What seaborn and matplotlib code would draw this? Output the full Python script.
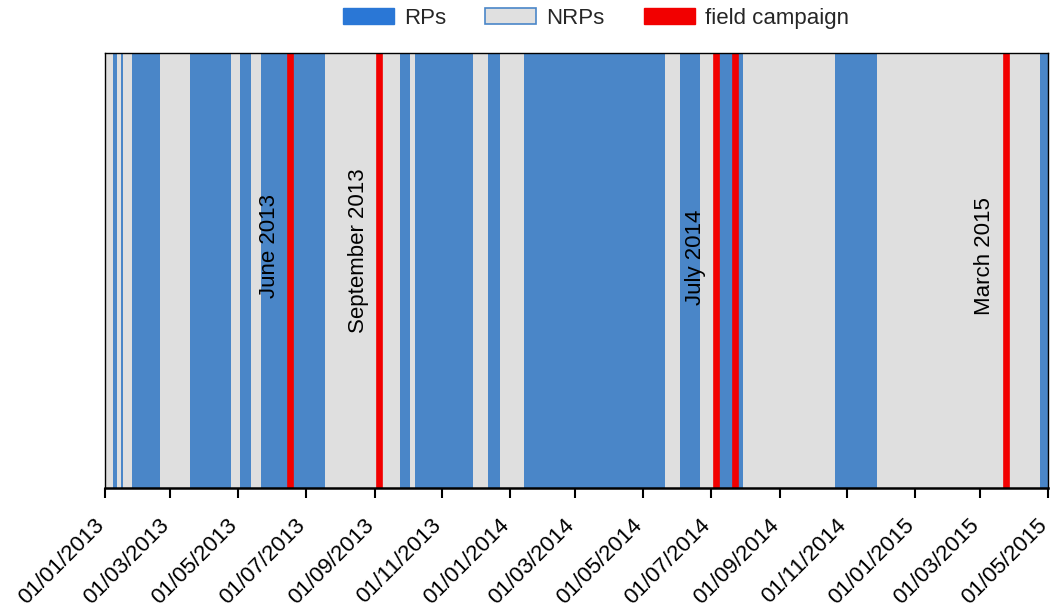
import matplotlib
matplotlib.use("Agg")
import matplotlib.pyplot as plt
import matplotlib.dates as mdates
import matplotlib.transforms as mtransforms
from matplotlib.patches import Patch
import pandas as pd
import seaborn as sns

# Rainfall-producing periods (start, end)
rp_start = ["2013-01-08", "2013-01-15", "2013-01-25", "2013-03-19", "2013-05-03",
            "2013-05-22", "2013-09-24", "2013-10-07", "2013-12-12", "2014-01-14",
            "2014-06-03", "2014-07-05", "2014-10-21", "2015-04-24"]
rp_end = ["2013-01-12", "2013-01-17", "2013-02-20", "2013-04-25", "2013-05-13",
          "2013-07-18", "2013-10-03", "2013-11-29", "2013-12-23", "2014-05-21",
          "2014-06-21", "2014-07-30", "2014-11-28", "2015-05-01"]

# Field campaign dates and their labels
campaign_dates = ["2013-06-17", "2013-09-05", "2014-07-06", "2014-07-23", "2015-03-24"]
campaign_labels = ["June 2013", "September 2013", "July 2014", "", "March 2015"]
label_y = [0.556, 0.545, 0.531, 0.53, 0.533]

x_min, x_max = "2013-01-01", "2015-05-01"

sns.set_theme(style="white")
plt.rcParams["font.family"] = ["Liberation Sans", "DejaVu Sans"]

RP_COLOR = "#4A86C8"
NRP_COLOR = "#DFDFDF"
CAMPAIGN_COLOR = "#F20000"
FS = 16

fig = plt.figure(figsize=(10.53, 6.14), dpi=100)
ax = fig.add_axes([0.0997, 0.2052, 0.8956, 0.7085])
ax.set_facecolor(NRP_COLOR)

rp = pd.DataFrame({"start": pd.to_datetime(rp_start), "end": pd.to_datetime(rp_end)})
for s, e in zip(rp["start"], rp["end"]):
    ax.axvspan(s, e, color=RP_COLOR, lw=0)

camp = pd.DataFrame({"date": pd.to_datetime(campaign_dates), "label": campaign_labels, "y": label_y})
sns.rugplot(data=camp, x="date", height=1, color=CAMPAIGN_COLOR, linewidth=4.8,
            alpha=1, expand_margins=False, ax=ax)
for d, lab, y in zip(camp["date"], camp["label"], camp["y"]):
    if lab:
        ax.annotate(lab, xy=(d, y), xycoords=("data", "axes fraction"),
                    xytext=(-21, 0), textcoords="offset pixels",
                    rotation=90, ha="center", va="center", fontsize=FS, color="black")

ax.set_xlim(pd.Timestamp(x_min), pd.Timestamp(x_max))
ax.set_ylim(0, 1)
ax.set_yticks([])
ax.xaxis.set_major_locator(mdates.MonthLocator(bymonth=[1, 3, 5, 7, 9, 11]))
ax.xaxis.set_major_formatter(mdates.DateFormatter("%d/%m/%Y"))
ax.tick_params(axis="x", direction="out", length=7, width=1.5, colors="black",
               labelsize=FS, pad=6, bottom=True)
shift = mtransforms.ScaledTranslation(-0.04, -0.16, fig.dpi_scale_trans)
for lbl in ax.get_xticklabels():
    lbl.set_rotation(45)
    lbl.set_ha("right")
    lbl.set_va("center")
    lbl.set_rotation_mode("anchor")
    lbl.set_transform(lbl.get_transform() + shift)

for side, sp in ax.spines.items():
    sp.set_visible(True)
    sp.set_color("black")
    sp.set_linewidth(1.0)
ax.spines["bottom"].set_linewidth(1.8)
ax.set_xlabel("")
ax.set_ylabel("")

handles = [
    Patch(facecolor="#2A77D6", edgecolor="#2A77D6", label="RPs"),
    Patch(facecolor="#E0E0E0", edgecolor="#4A86C8", lw=1.2, label="NRPs"),
    Patch(facecolor=CAMPAIGN_COLOR, edgecolor=CAMPAIGN_COLOR, label="field campaign"),
]
fig.legend(handles=handles, loc="center", bbox_to_anchor=(0.566, 0.970), ncol=3,
           frameon=False, fontsize=FS, handlelength=2.3, handleheight=0.7,
           handletextpad=0.45, columnspacing=1.75, borderpad=0.2)

fig.savefig("out.png", dpi=100)
